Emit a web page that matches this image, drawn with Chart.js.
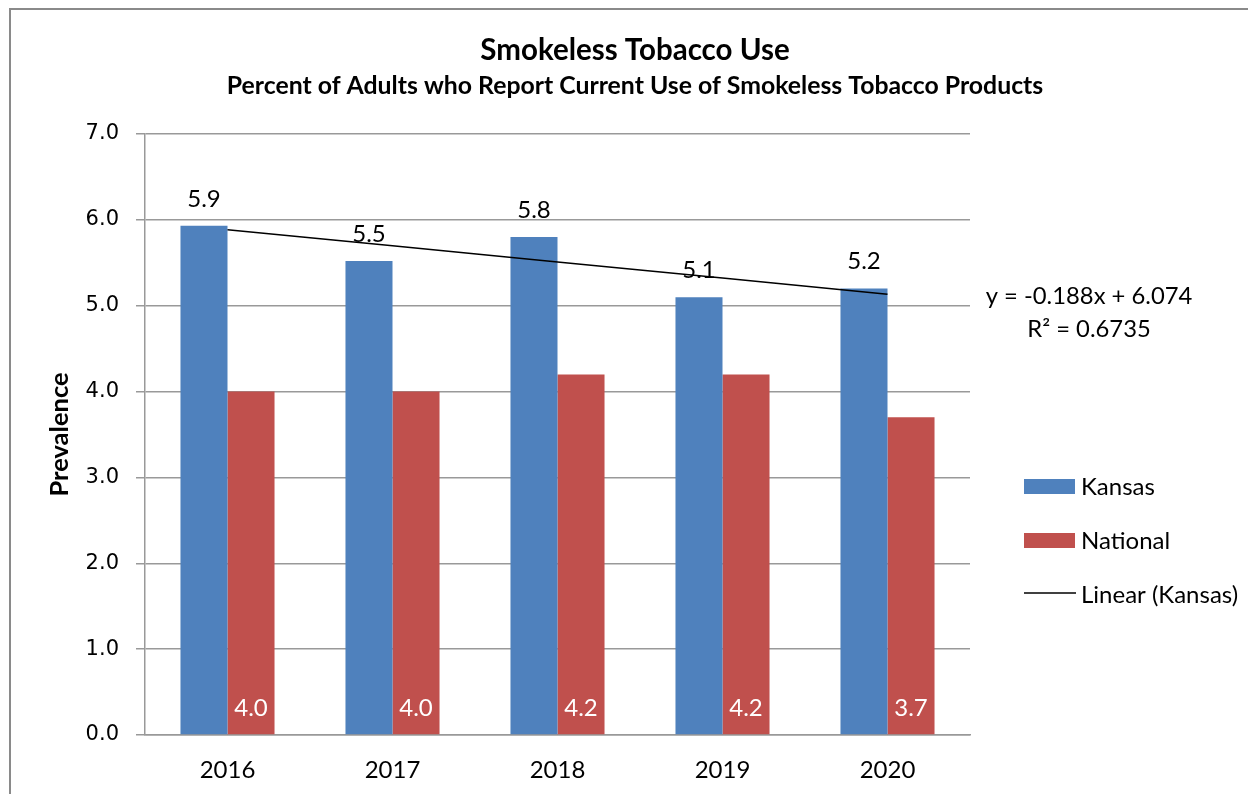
<!DOCTYPE html>
<html>
<head>
<meta charset="utf-8">
<script src="https://cdn.jsdelivr.net/npm/chart.js@4/dist/chart.umd.min.js"></script>
<style>
  body { margin: 0; background: #fff; }
  canvas { display: block; }
</style>
</head>
<body>
<canvas id="chart" width="1248" height="794"></canvas>
<script>
const years = ['2016', '2017', '2018', '2019', '2020'];
const kansas = [5.93, 5.52, 5.8, 5.1, 5.2];
const national = [4.0, 4.0, 4.2, 4.2, 3.7];
const yTicks = [0, 1, 2, 3, 4, 5, 6, 7];

// linear trendline shown in the chart (Excel's equation)
const trendSlope = -0.188;
const trendIntercept = 6.074;
const trendR2 = 0.6735;
const trend = years.map((y, i) => trendSlope * (i + 1) + trendIntercept);

const BLUE = '#4F81BD';
const RED = '#C0504D';
const GRID = '#999999';
const FONT = 'Lato, Carlito, sans-serif';

const extras = {
  id: 'extras',
  beforeDraw(chart) {
    const ctx = chart.ctx;
    ctx.save();
    ctx.strokeStyle = '#8a8a8a';
    ctx.lineWidth = 2;
    ctx.strokeRect(10, 9, 1400, 900);
    ctx.restore();
  },
  afterDatasetsDraw(chart) {
    const ctx = chart.ctx;
    ctx.save();
    ctx.font = '24px ' + FONT;
    ctx.textAlign = 'center';
    ctx.textBaseline = 'middle';
    // Kansas labels above the bars
    chart.getDatasetMeta(1).data.forEach((bar, i) => {
      ctx.fillStyle = '#000';
      ctx.fillText(kansas[i].toFixed(1), bar.x, bar.y - 27);
    });
    // National labels inside the bar, near the base
    chart.getDatasetMeta(2).data.forEach((bar, i) => {
      ctx.fillStyle = '#fff';
      ctx.fillText(national[i].toFixed(1), bar.x, bar.base - 26);
    });
    ctx.restore();
  },
  afterDraw(chart) {
    const ctx = chart.ctx;
    ctx.save();
    ctx.fillStyle = '#000';
    ctx.textAlign = 'center';
    ctx.textBaseline = 'middle';
    ctx.font = 'bold 29.5px ' + FONT;
    ctx.fillText('Smokeless Tobacco Use', 635, 50);
    ctx.font = 'bold 24.8px ' + FONT;
    ctx.fillText('Percent of Adults who Report Current Use of Smokeless Tobacco Products', 635, 86);

    // trend equation
    ctx.font = '23.8px ' + FONT;
    ctx.fillText('y = ' + trendSlope + 'x + ' + trendIntercept, 1089, 296);
    ctx.fillText('R\u00B2 = ' + trendR2, 1089, 329);

    // legend
    ctx.textAlign = 'left';
    ctx.fillStyle = BLUE;
    ctx.fillRect(1024, 479, 51, 15);
    ctx.fillStyle = RED;
    ctx.fillRect(1024, 533, 51, 15);
    ctx.strokeStyle = '#000';
    ctx.lineWidth = 1.5;
    ctx.beginPath();
    ctx.moveTo(1024, 593);
    ctx.lineTo(1076, 593);
    ctx.stroke();
    ctx.fillStyle = '#000';
    ctx.font = '24px ' + FONT;
    ctx.fillText('Kansas', 1081, 487);
    ctx.fillText('National', 1081, 541);
    ctx.fillText('Linear (Kansas)', 1081, 595);
    ctx.restore();
  }
};

new Chart(document.getElementById('chart'), {
  type: 'bar',
  data: {
    labels: years,
    datasets: [
      {
        type: 'line',
        label: 'Linear (Kansas)',
        data: trend,
        borderColor: '#000',
        borderWidth: 1.5,
        pointRadius: 0,
        fill: false,
        order: 0
      },
      {
        label: 'Kansas',
        data: kansas,
        backgroundColor: BLUE,
        categoryPercentage: 0.57,
        barPercentage: 1,
        order: 1
      },
      {
        label: 'National',
        data: national,
        backgroundColor: RED,
        categoryPercentage: 0.57,
        barPercentage: 1,
        order: 1
      }
    ]
  },
  options: {
    responsive: false,
    animation: false,
    layout: { padding: { left: 0, top: 134, right: 278, bottom: 0 } },
    plugins: {
      legend: { display: false },
      tooltip: { enabled: false },
      title: { display: false }
    },
    scales: {
      x: {
        grid: { display: false, drawTicks: false },
        border: { display: true, color: GRID, width: 1.5 },
        ticks: { color: '#000', font: { family: FONT, size: 24 }, padding: 21 },
        afterFit(scale) { scale.height = 59; }
      },
      y: {
        min: 0,
        max: 7,
        afterBuildTicks(scale) { scale.ticks = yTicks.map(v => ({ value: v })); },
        grid: { color: GRID, lineWidth: 1.5, tickLength: 9 },
        border: { display: true, color: GRID, width: 1.5 },
        ticks: {
          color: '#000',
          font: { family: 'DejaVu Sans', size: 21 },
          padding: 17,
          callback: v => v.toFixed(1)
        },
        title: {
          display: true,
          text: 'Prevalence',
          color: '#000',
          font: { family: FONT, size: 25.5, weight: 'bold' },
          padding: { top: 44, bottom: 0 }
        },
        afterFit(scale) { scale.width = 145; }
      }
    }
  },
  plugins: [extras]
});
</script>
</body>
</html>
